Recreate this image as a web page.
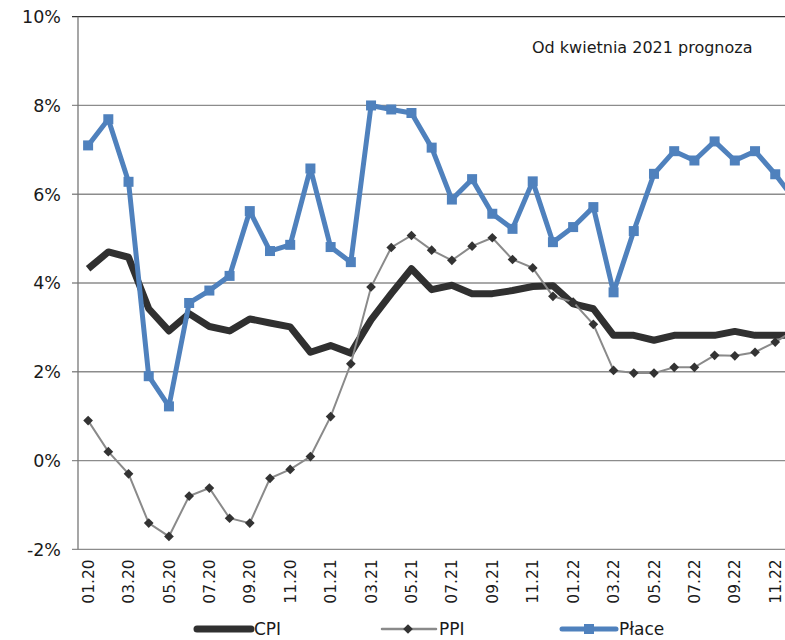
<html lang="pl">
  <head>
    <meta charset="UTF-8" />
    <title>CPI, PPI, Płace</title>
    <script src="https://d3js.org/d3.v7.min.js"></script>
    <style>
      * {
        margin: 0;
        padding: 0;
      }
      body {
        background: #fff;
      }
      svg text {
        font-family: "DejaVu Sans", Verdana, sans-serif;
        fill: #1a1a1a;
      }
    </style>
  </head>
  <body>
    <div id="svgContainer"></div>
    <script>
      // months 01.20 - 12.22
      const months = [
        "01.20", "02.20", "03.20", "04.20", "05.20", "06.20",
        "07.20", "08.20", "09.20", "10.20", "11.20", "12.20",
        "01.21", "02.21", "03.21", "04.21", "05.21", "06.21",
        "07.21", "08.21", "09.21", "10.21", "11.21", "12.21",
        "01.22", "02.22", "03.22", "04.22", "05.22", "06.22",
        "07.22", "08.22", "09.22", "10.22", "11.22", "12.22",
      ];

      const cpi = [
        4.32, 4.7, 4.58, 3.42, 2.92, 3.31, 3.02, 2.92, 3.19, 3.1, 3.01, 2.44,
        2.59, 2.42, 3.17, 3.76, 4.32, 3.85, 3.95, 3.76, 3.76, 3.83, 3.92, 3.94,
        3.53, 3.42, 2.82, 2.82, 2.71, 2.82, 2.82, 2.82, 2.91, 2.82, 2.82, 2.82,
      ];

      const ppi = [
        0.9, 0.2, -0.3, -1.41, -1.71, -0.8, -0.62, -1.3, -1.41, -0.4, -0.2, 0.09,
        0.99, 2.18, 3.91, 4.8, 5.07, 4.74, 4.51, 4.83, 5.02, 4.53, 4.34, 3.7,
        3.57, 3.07, 2.03, 1.97, 1.97, 2.1, 2.1, 2.37, 2.36, 2.44, 2.67, 2.95,
      ];

      const place = [
        7.1, 7.69, 6.28, 1.9, 1.22, 3.55, 3.83, 4.16, 5.62, 4.72, 4.86, 6.58,
        4.81, 4.47, 8.0, 7.91, 7.83, 7.05, 5.88, 6.34, 5.56, 5.22, 6.29, 4.92,
        5.26, 5.71, 3.79, 5.17, 6.46, 6.97, 6.76, 7.19, 6.76, 6.97, 6.45, 5.85,
      ];

      const yTicks = [-2, 0, 2, 4, 6, 8, 10];
      const seriesNames = ["CPI", "PPI", "Płace"];
      const note = "Od kwietnia 2021 prognoza";

      const width = 785;
      const height = 640;

      const PLOT = { left: 78, top: 16.7, bottom: 549.3, step: 20.21 };

      let svg = d3
        .select("#svgContainer")
        .append("svg")
        .attr("width", width)
        .attr("height", height);

      let scaleX = d3
        .scaleBand()
        .domain(months)
        .range([PLOT.left, PLOT.left + months.length * PLOT.step]);

      let scaleY = d3
        .scaleLinear()
        .domain([-2, 10])
        .range([PLOT.bottom, PLOT.top]);

      const cx = (m) => scaleX(m) + scaleX.bandwidth() / 2;

      // grid lines
      svg
        .append("g")
        .selectAll("line")
        .data(yTicks)
        .join("line")
        .attr("x1", PLOT.left - 6)
        .attr("x2", scaleX.range()[1])
        .attr("y1", (d) => scaleY(d))
        .attr("y2", (d) => scaleY(d))
        .attr("stroke", (d) => (d === 10 ? "#333" : "#8c8c8c"))
        .attr("stroke-width", 1.3);

      // y axis line
      svg
        .append("line")
        .attr("x1", PLOT.left)
        .attr("x2", PLOT.left)
        .attr("y1", scaleY(10))
        .attr("y2", scaleY(-2))
        .attr("stroke", "#777")
        .attr("stroke-width", 1.3);

      // y labels
      svg
        .append("g")
        .selectAll("text")
        .data(yTicks)
        .join("text")
        .attr("x", 61)
        .attr("y", (d) => scaleY(d))
        .attr("dy", "0.36em")
        .attr("text-anchor", "end")
        .style("font-size", "17.5px")
        .text((d) => d + "%");

      // x labels, every second month
      svg
        .append("g")
        .selectAll("text")
        .data(months.filter((m, i) => i % 2 === 0))
        .join("text")
        .attr("transform", (d) => `translate(${cx(d)},${PLOT.bottom + 10}) rotate(-90)`)
        .attr("dy", "0.36em")
        .attr("text-anchor", "end")
        .style("font-size", "15.5px")
        .text((d) => d);

      let line = (vals) =>
        d3
          .line()
          .x((d, i) => cx(months[i]))
          .y((d) => scaleY(d))(vals);

      // CPI
      svg
        .append("path")
        .attr("d", line(cpi))
        .attr("fill", "none")
        .attr("stroke", "#303030")
        .attr("stroke-width", 7)
        .attr("stroke-linejoin", "round");

      // PPI
      svg
        .append("path")
        .attr("d", line(ppi))
        .attr("fill", "none")
        .attr("stroke", "#8a8a8a")
        .attr("stroke-width", 2);

      const diamond = d3.symbol().type(d3.symbolDiamond2).size(60);

      svg
        .append("g")
        .selectAll("path")
        .data(ppi)
        .join("path")
        .attr("transform", (d, i) => `translate(${cx(months[i])},${scaleY(d)})`)
        .attr("d", diamond)
        .attr("fill", "#333");

      // Płace
      svg
        .append("path")
        .attr("d", line(place))
        .attr("fill", "none")
        .attr("stroke", "#4f81bd")
        .attr("stroke-width", 5)
        .attr("stroke-linejoin", "round");

      svg
        .append("g")
        .selectAll("rect")
        .data(place)
        .join("rect")
        .attr("x", (d, i) => cx(months[i]) - 5)
        .attr("y", (d) => scaleY(d) - 5)
        .attr("width", 10)
        .attr("height", 10)
        .attr("fill", "#4f81bd");

      // note
      svg
        .append("text")
        .attr("x", 532)
        .attr("y", 53)
        .style("font-size", "16px")
        .text(note);

      // legend
      const legendX = [197, 382, 562];
      const legendStyle = [
        { stroke: "#303030", w: 7 },
        { stroke: "#8a8a8a", w: 2.5 },
        { stroke: "#4f81bd", w: 5 },
      ];

      let legend = svg
        .append("g")
        .selectAll("g")
        .data(seriesNames)
        .join("g")
        .attr("transform", (d, i) => `translate(${legendX[i]},629)`);

      legend
        .append("line")
        .attr("x1", 0)
        .attr("x2", 54)
        .attr("stroke", (d, i) => legendStyle[i].stroke)
        .attr("stroke-width", (d, i) => legendStyle[i].w)
        .attr("stroke-linecap", "round");

      legend
        .filter((d, i) => i === 1)
        .append("path")
        .attr("transform", "translate(26,0)")
        .attr("d", diamond)
        .attr("fill", "#333");

      legend
        .filter((d, i) => i === 2)
        .append("rect")
        .attr("x", 22)
        .attr("y", -5)
        .attr("width", 10)
        .attr("height", 10)
        .attr("fill", "#4f81bd");

      legend
        .append("text")
        .attr("x", 57)
        .attr("dy", "0.36em")
        .style("font-size", "17px")
        .text((d) => d);
    </script>
  </body>
</html>
